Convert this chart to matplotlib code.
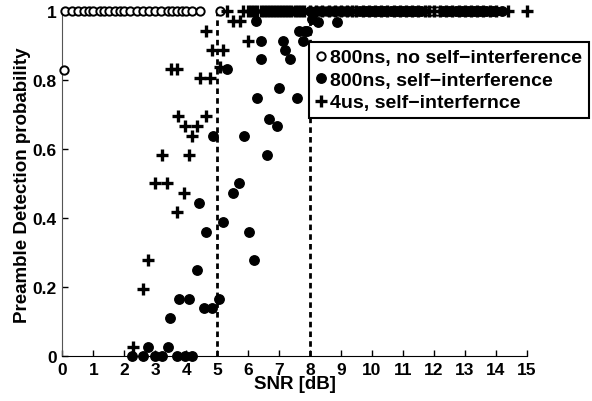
import matplotlib
matplotlib.use('Agg')
import matplotlib.pyplot as plt

plt.rcParams['font.family'] = ['Liberation Sans', 'DejaVu Sans']
plt.rcParams['font.weight'] = 'bold'
plt.rcParams['font.size'] = 10

# 800ns, no self-interference (hollow circles)
snr_nosi = [0.05, 0.1, 0.3, 0.5, 0.7, 0.85, 1.0, 1.2, 1.35, 1.5, 1.7, 1.85, 2.0,
            2.2, 2.4, 2.6, 2.8, 3.0, 3.2, 3.4, 3.55, 3.7, 3.85, 4.0, 4.2, 4.45,
            5.1, 8.3, 8.4, 8.5, 8.6, 8.75, 8.9, 9.0, 9.1, 9.25, 9.4, 9.55, 9.7,
            9.8, 9.9, 10.0, 10.1, 10.2, 10.3, 10.4, 10.5, 10.6, 10.7, 10.8, 10.9,
            11.0, 11.1, 11.2, 11.3, 11.4, 11.5, 11.6, 11.75, 11.9, 12.1, 12.3,
            12.5, 12.6, 12.7, 12.8, 12.9, 13.0, 13.1, 13.2, 13.3, 13.4, 13.5,
            13.6, 13.7, 13.8, 13.9, 14.0]
prob_nosi = [0.83] + [1.0] * (len(snr_nosi) - 1)

# 800ns, self-interference (filled circles)
snr_si = [2.24, 2.59, 2.78, 2.99, 3.21, 3.40, 3.69, 3.96, 4.20, 3.48, 3.76, 4.10,
          4.36, 4.59, 4.82, 5.07, 6.20, 4.63, 5.19, 6.02, 4.42, 5.50, 5.71, 6.61,
          4.86, 5.88, 6.92, 6.68, 6.30, 6.99, 7.59, 5.31, 6.43, 7.35, 7.19, 6.43,
          7.12, 7.78, 7.63, 7.89, 6.26, 8.06, 8.26, 8.87, 7.84,
          6.5, 6.7, 6.9, 7.1, 7.3, 7.5, 7.7, 8.0, 8.2, 8.4, 8.6, 8.8, 9.0, 9.2,
          9.6, 9.8, 10.0, 10.2, 10.4, 10.6, 10.8, 11.0, 11.2, 11.4, 11.6, 12.3,
          12.5, 12.7, 12.9, 13.1, 13.3, 13.5, 13.7, 13.9, 14.2]
prob_si = [0, 0, 0.028, 0, 0, 0.028, 0, 0, 0, 0.111, 0.167, 0.167,
           0.251, 0.139, 0.139, 0.167, 0.278, 0.361, 0.388, 0.361, 0.444, 0.472, 0.501, 0.584,
           0.639, 0.639, 0.668, 0.688, 0.750, 0.779, 0.750, 0.833, 0.861, 0.861, 0.889, 0.915,
           0.915, 0.915, 0.944, 0.944, 0.973, 0.978, 0.97, 0.97, 0.944] + [1.0] * 35

# 4us, self-interference (plus)
snr_4us = [2.27, 2.59, 2.78, 3.69, 3.94, 2.99, 3.39, 3.21, 4.10, 4.19, 3.96, 4.34,
           3.75, 4.63, 3.51, 3.69, 4.45, 4.77, 5.09, 4.82, 5.18, 4.63, 6.01, 5.52,
           5.74, 5.31, 5.85, 6.0, 6.1, 6.2, 6.3, 6.4, 6.5, 6.6, 6.7, 6.8, 6.9, 7.0,
           7.1, 7.2, 7.3, 7.4, 7.5, 7.6, 7.7, 7.8, 8.0, 8.2, 8.4, 8.6, 8.8, 9.0,
           9.2, 9.35, 9.5, 9.7, 9.9, 10.1, 10.3, 10.5, 10.7, 10.9, 11.1, 11.3, 11.5,
           11.7, 11.85, 12.0, 12.2, 12.4, 12.6, 12.8, 13.0, 13.2, 13.4, 13.6, 13.8,
           14.0, 14.4, 15.0]
prob_4us = [0.028, 0.195, 0.278, 0.417, 0.472, 0.501, 0.501, 0.584, 0.584, 0.639, 0.668, 0.668,
            0.697, 0.697, 0.833, 0.833, 0.806, 0.806, 0.838, 0.889, 0.889, 0.944, 0.915, 0.973,
            0.973] + [1.0] * 55

thresholds = [5, 8]

fig = plt.figure(figsize=(5.92, 4.02), dpi=100)
ax = fig.add_axes([0.1054, 0.1112, 0.7843, 0.8582])

for t in thresholds:
    ax.plot([t, t], [0, 1], color='black', lw=2, linestyle=(0, (2, 1.5)), zorder=1)

ax.plot(snr_nosi, prob_nosi, 'o', mfc='white', mec='black', mew=1.4, ms=6,
        clip_on=False, zorder=3, label='800ns, no self\u2212interference')
ax.plot(snr_si, prob_si, 'o', color='black', ms=6.8, clip_on=False, zorder=3,
        label='800ns, self\u2212interference')
ax.plot(snr_4us, prob_4us, '+', color='black', ms=8.5, mew=2.4, clip_on=False, zorder=3,
        label='4us, self\u2212interfernce')

ax.set_xlim(0, 15)
ax.set_ylim(0, 1)
ax.set_xticks(range(0, 16))
ax.set_yticks([0, 0.2, 0.4, 0.6, 0.8, 1])
ax.set_yticklabels(['0', '0.2', '0.4', '0.6', '0.8', '1'])
ax.tick_params(direction='in', length=4, width=1, pad=4, labelsize=12.5)
for lab in ax.get_xticklabels() + ax.get_yticklabels():
    lab.set_fontweight('bold')
ax.spines['top'].set_visible(False)
ax.spines['right'].set_visible(False)
ax.spines['left'].set_color('#555555')
ax.set_xlabel('SNR [dB]', fontsize=13.5, fontweight='bold', labelpad=-1)
ax.set_ylabel('Preamble Detection probability', fontsize=13.5, fontweight='bold', labelpad=1)

leg = ax.legend(loc='upper left', bbox_to_anchor=(0.531, 0.911), fancybox=False,
                edgecolor='black', framealpha=1, handlelength=0.5, handletextpad=0.25,
                labelspacing=0.25, borderpad=0.35, fontsize=14, borderaxespad=0)
leg.get_frame().set_linewidth(1.5)

fig.savefig('out.png', dpi=100)
